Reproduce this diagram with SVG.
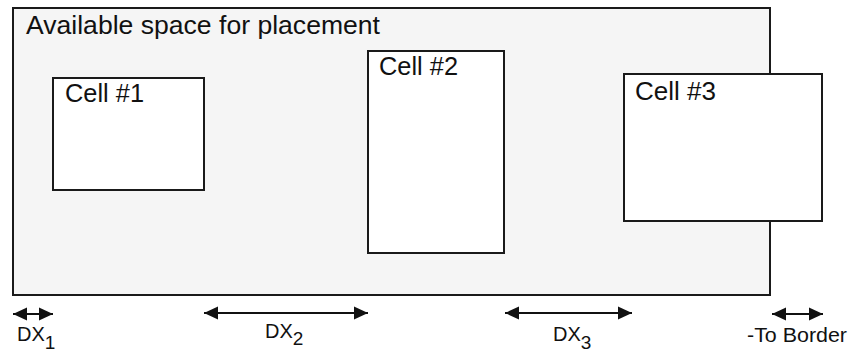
<svg xmlns="http://www.w3.org/2000/svg" width="848" height="352" viewBox="0 0 848 352">
  <style>
    .box { fill: #ffffff; stroke: #1a1a1a; stroke-width: 2; }
    .area { fill: #f5f5f5; stroke: #1a1a1a; stroke-width: 2; }
    .lbl { font-family: "Liberation Sans", Arial, sans-serif; fill: #111; }
    .dim { stroke: #111; stroke-width: 2; fill: none; marker-start: url(#ah); marker-end: url(#ah); }
  </style>
  <defs>
    <marker id="ah" viewBox="0 0 14 14" refX="14" refY="7" markerWidth="14" markerHeight="14" markerUnits="userSpaceOnUse" orient="auto-start-reverse">
      <path d="M0,0.5 L14,7 L0,13.5 Z" fill="#111"/>
    </marker>
  </defs>
  <rect width="848" height="352" fill="#ffffff"/>
  <g id="area">
    <rect class="area" x="13" y="8" width="757" height="287"/>
    <text class="lbl" x="26" y="34" font-size="26" textLength="354" lengthAdjust="spacingAndGlyphs">Available space for placement</text>
  </g>
  <g id="cell1">
    <rect class="box" x="53" y="78" width="151" height="112"/>
    <text class="lbl" x="65" y="102" font-size="25" textLength="79" lengthAdjust="spacingAndGlyphs">Cell #1</text>
  </g>
  <g id="cell2">
    <rect class="box" x="368" y="51" width="136" height="202"/>
    <text class="lbl" x="379" y="75" font-size="25" textLength="79" lengthAdjust="spacingAndGlyphs">Cell #2</text>
  </g>
  <g id="cell3">
    <rect class="box" x="624" y="74" width="198" height="147"/>
    <text class="lbl" x="635" y="100" font-size="25" textLength="81" lengthAdjust="spacingAndGlyphs">Cell #3</text>
  </g>
  <g id="connectors">
    <line class="dim" x1="13" y1="314" x2="53" y2="314"/>
    <line class="dim" x1="204" y1="313" x2="368" y2="313"/>
    <line class="dim" x1="505" y1="313" x2="632" y2="313"/>
    <line class="dim" x1="772" y1="314" x2="823" y2="314"/>
  </g>
  <g id="labels">
    <text class="lbl" x="17" y="341" font-size="20">DX<tspan font-size="19" dy="8">1</tspan></text>
    <text class="lbl" x="265" y="338" font-size="20">DX<tspan font-size="19" dy="7">2</tspan></text>
    <text class="lbl" x="553" y="341" font-size="20">DX<tspan font-size="19" dy="8">3</tspan></text>
    <text class="lbl" x="747" y="342" font-size="20" textLength="100" lengthAdjust="spacingAndGlyphs">-To Border</text>
  </g>
</svg>
